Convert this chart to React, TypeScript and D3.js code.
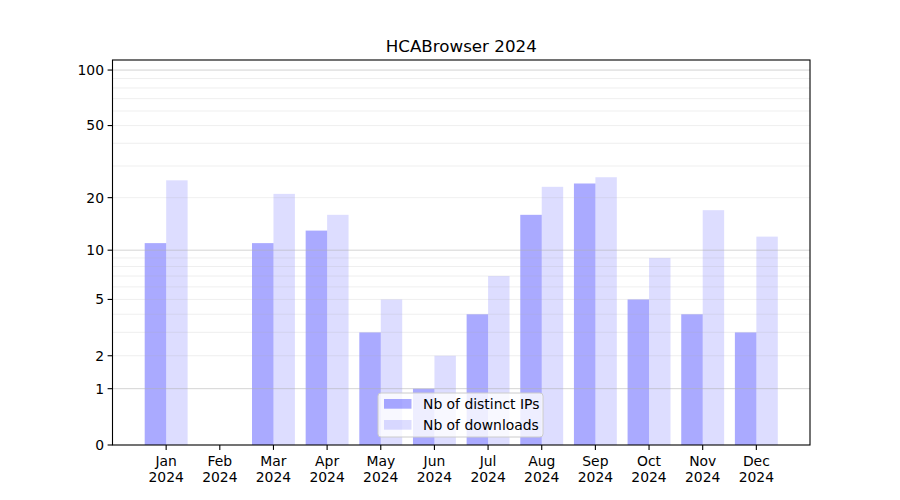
import React from "react";
import * as d3 from "d3";

const months = ["Jan", "Feb", "Mar", "Apr", "May", "Jun", "Jul", "Aug", "Sep", "Oct", "Nov", "Dec"];
const year = "2024";
const distinctIPs = [11, 0, 11, 13, 3, 1, 4, 16, 24, 5, 4, 3];
const downloads = [25, 0, 21, 16, 5, 2, 7, 23, 26, 9, 17, 12];
const yTickValues = [0, 1, 2, 5, 10, 20, 50, 100];
const majorGrid = [1, 10, 100];
const minorGrid = [2, 3, 4, 5, 6, 7, 8, 9, 20, 30, 40, 50, 60, 70, 80, 90];
const seriesNames = ["Nb of distinct IPs", "Nb of downloads"];
const title = "HCABrowser 2024";

const W = 900, H = 500;
const left = 112.5, right = 810, top = 60, bottom = 445;
const FONT = "DejaVu Sans, sans-serif";

export default function App() {
  const tf = (v: number) => Math.log10(1 + v);
  const ys = d3.scaleLinear().domain([0, tf(113.3)]).range([bottom, top]);
  const y = (v: number) => ys(tf(v));
  const x = d3.scaleLinear().domain([-1, 12]).range([left, right]);
  const bw = x(0.4) - x(0);
  const blue = "#0000ff";

  const legendX = 378, legendY = 393, legendW = 165, legendH = 44;

  return (
    <svg width={W} height={H} style={{ position: "absolute", left: 0, top: 0 }} fontFamily={FONT}>
      <rect x={0} y={0} width={W} height={H} fill="white" />
      {/* bars */}
      {months.map((m, i) => (
        <g key={m}>
          <rect x={x(i) - bw} y={y(distinctIPs[i])} width={bw} height={bottom - y(distinctIPs[i])} fill={blue} fillOpacity={0.333} />
          <rect x={x(i)} y={y(downloads[i])} width={bw} height={bottom - y(downloads[i])} fill={blue} fillOpacity={0.135} />
        </g>
      ))}
      {/* grid */}
      {minorGrid.map((v) => (
        <line key={"mi" + v} x1={left} x2={right} y1={y(v)} y2={y(v)} stroke="#b0b0b0" strokeOpacity={0.25} strokeWidth={0.8} />
      ))}
      {majorGrid.map((v) => (
        <line key={"ma" + v} x1={left} x2={right} y1={y(v)} y2={y(v)} stroke="#b0b0b0" strokeOpacity={0.7} strokeWidth={0.8} />
      ))}
      {/* frame */}
      <rect x={left} y={top} width={right - left} height={bottom - top} fill="none" stroke="black" strokeWidth={1.1} />
      {/* y ticks */}
      {yTickValues.map((v) => (
        <g key={"yt" + v}>
          <line x1={left - 4.9} x2={left} y1={y(v)} y2={y(v)} stroke="black" strokeWidth={1.1} />
          <text x={left - 8.5} y={y(v)} dy="0.35em" textAnchor="end" fontSize={13.9} fill="black">{v}</text>
        </g>
      ))}
      {/* x ticks */}
      {months.map((m, i) => (
        <g key={"xt" + m}>
          <line x1={x(i)} x2={x(i)} y1={bottom} y2={bottom + 4.9} stroke="black" strokeWidth={1.1} />
          <text x={x(i)} y={bottom + 21} textAnchor="middle" fontSize={13.9} fill="black">{m}</text>
          <text x={x(i)} y={bottom + 37} textAnchor="middle" fontSize={13.9} fill="black">{year}</text>
        </g>
      ))}
      {/* title */}
      <text x={(left + right) / 2} y={top - 8} textAnchor="middle" fontSize={16.7} fill="black">{title}</text>
      {/* legend */}
      <rect x={legendX} y={legendY} width={legendW} height={legendH} rx={3} fill="white" fillOpacity={0.8} stroke="#cccccc" strokeWidth={1} />
      {seriesNames.map((s, k) => (
        <g key={s}>
          <rect x={384} y={legendY + 6 + k * 21} width={27.5} height={9.7} fill={blue} fillOpacity={k === 0 ? 0.333 : 0.135} />
          <text x={423} y={legendY + 11 + k * 21} dy="0.35em" fontSize={13.9} fill="black">{s}</text>
        </g>
      ))}
    </svg>
  );
}
